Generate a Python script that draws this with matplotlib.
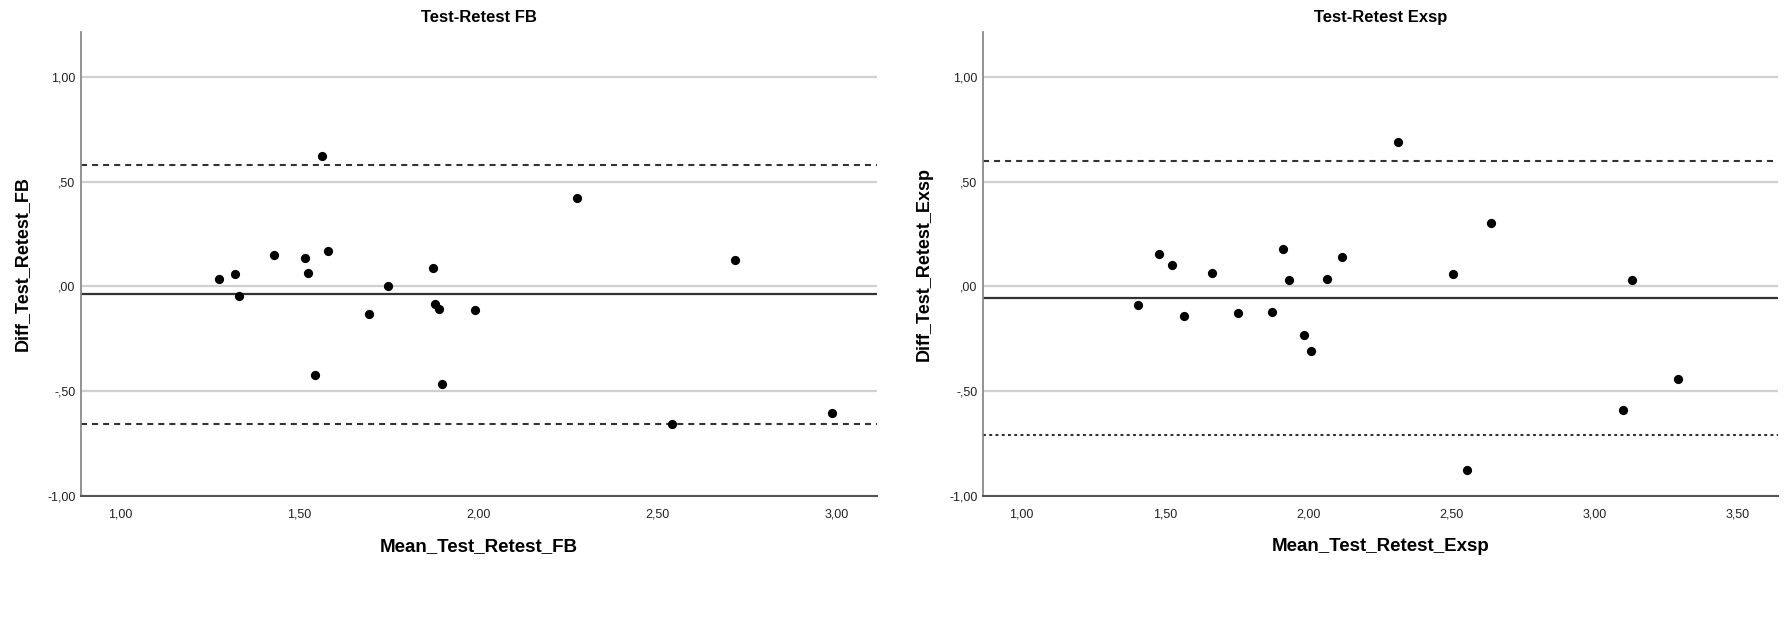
import matplotlib
matplotlib.use("Agg")
import matplotlib.pyplot as plt
from matplotlib import font_manager
from matplotlib.ticker import FuncFormatter

# Bland-Altman data
fb_mean = [1.275, 1.321, 1.333, 1.429, 1.517, 1.525, 1.544, 1.563, 1.580, 1.695,
           1.749, 1.873, 1.878, 1.890, 1.897, 1.990, 2.274, 2.540, 2.717, 2.986]
fb_diff = [0.035, 0.057, -0.046, 0.151, 0.135, 0.065, -0.425, 0.624, 0.167, -0.134,
           0.003, 0.087, -0.083, -0.108, -0.465, -0.113, 0.424, -0.656, 0.126, -0.607]
fb_bias = -0.038
fb_upper = 0.580
fb_lower = -0.656

exsp_mean = [1.407, 1.480, 1.524, 1.566, 1.663, 1.754, 1.875, 1.913, 1.933, 2.065,
             1.985, 2.009, 2.118, 2.312, 2.506, 2.638, 3.130, 3.290, 3.099, 2.555]
exsp_diff = [-0.088, 0.156, 0.102, -0.142, 0.064, -0.126, -0.123, 0.180, 0.032, 0.037,
             -0.231, -0.311, 0.139, 0.688, 0.061, 0.301, 0.030, -0.441, -0.589, -0.876]
exsp_bias = -0.057
exsp_upper = 0.598
exsp_lower = -0.712

y_ticks = [-1.0, -0.5, 0.0, 0.5, 1.0]
fb_xticks = [1.0, 1.5, 2.0, 2.5, 3.0]
exsp_xticks = [1.0, 1.5, 2.0, 2.5, 3.0, 3.5]

# SPSS style narrow font if we have it
names = {f.name for f in font_manager.fontManager.ttflist}
narrow = "Liberation Sans Narrow" if "Liberation Sans Narrow" in names else "Liberation Sans"
plt.rcParams["font.family"] = ["Liberation Sans", "DejaVu Sans"]


def spss_fmt(v, pos=None):
    s = "%.2f" % v
    s = s.replace(".", ",")
    if s.startswith("0,"):
        s = s[1:]
    elif s.startswith("-0,"):
        s = "-" + s[2:]
    return s


def bland_altman(ax, xs, ys, bias, upper, lower, xticks, xlim, title, xlabel, ylabel, lower_style):
    ax.set_ylim(-1.0, 1.215)
    ax.set_xlim(*xlim)
    ax.set_yticks(y_ticks)
    ax.set_xticks(xticks)
    ax.yaxis.set_major_formatter(FuncFormatter(spss_fmt))
    ax.xaxis.set_major_formatter(FuncFormatter(spss_fmt))
    ax.grid(axis="y", color="#d0d0d0", linewidth=1.6, zorder=0)
    ax.set_axisbelow(True)

    ax.axhline(upper, color="#333333", linewidth=1.5, linestyle=(0, (2.9, 2.4)), zorder=2)
    ax.axhline(lower, color="#333333", linewidth=1.5, linestyle=lower_style, zorder=2)
    ax.axhline(bias, color="#333333", linewidth=1.6, zorder=2)
    ax.scatter(xs, ys, s=44, color="black", zorder=3, linewidths=0)

    for side in ["top", "right"]:
        ax.spines[side].set_visible(False)
    ax.spines["left"].set_color("#8a8a8a")
    ax.spines["bottom"].set_color("#555555")
    ax.spines["left"].set_linewidth(1.3)
    ax.spines["bottom"].set_linewidth(1.5)
    ax.tick_params(length=0, labelsize=9, labelcolor="#222222")
    ax.tick_params(axis="x", pad=9)
    ax.tick_params(axis="y", pad=4)
    for lab in ax.get_xticklabels() + ax.get_yticklabels():
        lab.set_family([narrow, "DejaVu Sans"])

    ax.set_title(title, fontsize=12, fontweight="bold", family=[narrow, "DejaVu Sans"], pad=7)
    ax.set_xlabel(xlabel, fontsize=13.5, fontweight="bold", family=[narrow, "DejaVu Sans"], labelpad=13)
    ax.set_ylabel(ylabel, fontsize=13, fontweight="bold", labelpad=12)


fig = plt.figure(figsize=(17.87, 6.27), dpi=100)
ax1 = fig.add_axes([0.0453, 0.2094, 0.4457, 0.7396])
ax2 = fig.add_axes([0.5501, 0.2094, 0.4449, 0.7396])

bland_altman(ax1, fb_mean, fb_diff, fb_bias, fb_upper, fb_lower, fb_xticks, (0.891, 3.113),
             "Test-Retest FB", "Mean_Test_Retest_FB", "Diff_Test_Retest_FB",
             (0, (2.9, 2.4)))
bland_altman(ax2, exsp_mean, exsp_diff, exsp_bias, exsp_upper, exsp_lower, exsp_xticks, (0.865, 3.64),
             "Test-Retest Exsp", "Mean_Test_Retest_Exsp", "Diff_Test_Retest_Exsp",
             (0, (1.4, 1.6)))

fig.savefig("out.png", dpi=100)
